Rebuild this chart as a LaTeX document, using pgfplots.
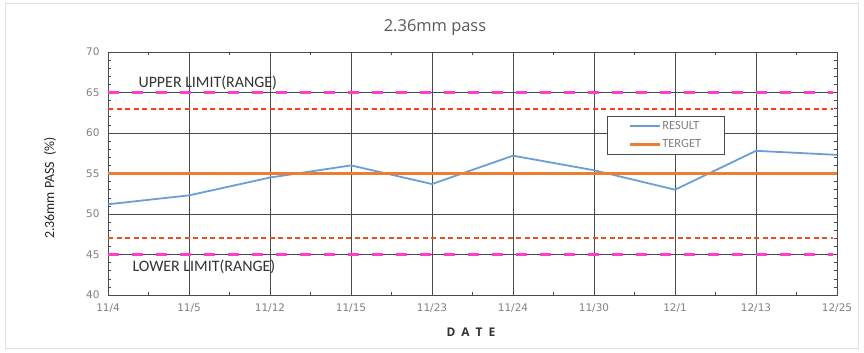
\documentclass[border=0pt]{standalone}
\usepackage{pgfplots}
\pgfplotsset{compat=1.18}
\usepackage{fontspec}
\setmainfont{Carlito}
\newfontfamily\titlefont{Open Sans}
\newfontfamily\tickfont{DejaVu Sans}
\definecolor{resblue}{HTML}{6A9FD6}
\definecolor{tgtorange}{HTML}{ED7D31}
\definecolor{limmag}{HTML}{FF3CCB}
\definecolor{upred}{HTML}{FF3A1E}
\definecolor{lowred}{HTML}{E5531C}
\definecolor{gridgray}{HTML}{4A4A4A}
\definecolor{txtgray}{HTML}{808080}

\begin{document}
\begin{tikzpicture}[x=1bp,y=1bp]
\path[use as bounding box] (0,0) rectangle (864,352);
\draw[black!12, line width=1bp] (5,4) rectangle (858,348);
\begin{axis}[
  at={(108bp,57bp)}, anchor=south west,
  scale only axis, width=729bp, height=243bp,
  xmin=0, xmax=9, ymin=40, ymax=70,
  xtick={0,...,9},
  xticklabels={11/4,11/5,11/12,11/15,11/23,11/24,11/30,12/1,12/13,12/25},
  minor xtick={0.5,1.5,...,8.5},
  ytick={40,45,...,70},
  minor y tick num=4,
  xmajorgrids, ymajorgrids,
  grid style={gridgray, line width=0.8bp},
  axis line style={gridgray, line width=0.8bp},
  tick style={gridgray, line width=0.6bp},
  minor tick length=3bp, major tick length=3bp,
  tick label style={font=\tickfont\fontsize{10.5}{12}\selectfont, text=txtgray},
  /pgf/number format/assume math mode=true,
  xticklabel style={yshift=-5bp},
  yticklabel style={xshift=-5bp},
  legend style={at={(rel axis cs:0.684,0.737)}, anchor=north west,
    draw=gridgray, line width=0.6bp, fill=white,
    font=\fontsize{12.5}{14}\selectfont, text=txtgray,
    inner xsep=22bp, inner ysep=3bp, row sep=5bp,
    nodes={inner xsep=1bp, inner ysep=2bp}},
  legend cell align=left,
  legend image code/.code={\draw[#1] (0bp,0bp) -- (30bp,0bp);},
  clip=false,
]
% limit lines
\addplot[limmag, line width=3bp, dash pattern=on 11bp off 13bp, forget plot]
  coordinates {(0,65) (8.95,65)};
\addplot[upred, line width=2bp, dash pattern=on 5bp off 3.5bp, forget plot]
  coordinates {(0,63) (8.95,63)};
\addplot[lowred, line width=2bp, dash pattern=on 5bp off 3.5bp, forget plot]
  coordinates {(0,47) (8.95,47)};
\addplot[limmag, line width=3bp, dash pattern=on 11bp off 13bp, forget plot]
  coordinates {(0,45) (8.95,45)};
% measured results
\addplot[resblue, line width=1.8bp] coordinates {
  (0,51.2) (1,52.3) (2,54.5) (3,56.0) (4,53.7)
  (5,57.2) (6,55.4) (7,53.0) (8,57.8) (9,57.3)};
\addlegendentry{RESULT}
% target
\addplot[tgtorange, line width=2.4bp] coordinates {(0,55) (9,55)};
\addlegendentry{TERGET}
\end{axis}
% titles and labels
\node[text=black!65, font=\titlefont\fontsize{16.5}{18}\selectfont] at (435,324) {2.36mm pass};
\node[rotate=90, text=black!85, font=\fontsize{14}{16}\selectfont] at (50,164) {2.36mm PASS\ \ (\%)};
\node[text=black!80, font=\titlefont\bfseries\fontsize{12}{14}\selectfont] at (471,20) {D\hspace{6bp}A\hspace{6bp}T\hspace{6bp}E};
\node[anchor=west, text=black!80, font=\fontsize{16}{18}\selectfont] at (135,269) {UPPER LIMIT(RANGE)};
\node[anchor=west, text=black!80, font=\fontsize{16}{18}\selectfont] at (129,85) {LOWER LIMIT(RANGE)};
\end{tikzpicture}
\end{document}
